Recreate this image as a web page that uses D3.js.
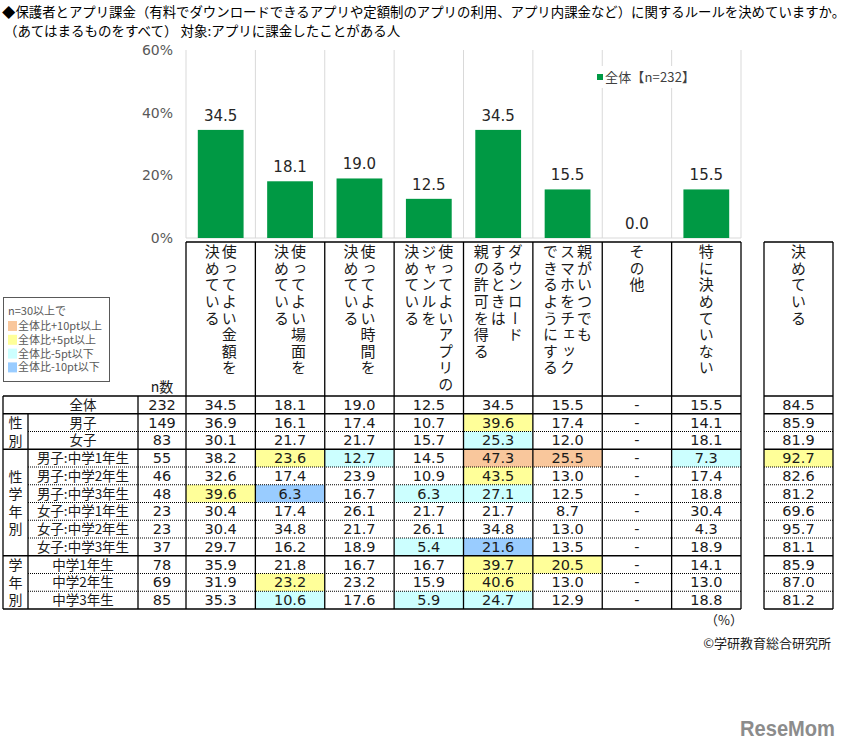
<!DOCTYPE html>
<html>
<head>
<meta charset="utf-8">
<script src="https://cdn.jsdelivr.net/npm/d3@7"></script>
<style>
  body { margin: 0; background: #fff; }
  svg { display: block; font-family: "Noto Sans CJK JP", sans-serif; }
  .num { font-family: "DejaVu Sans", sans-serif; }
</style>
</head>
<body>
<div id="chart"></div>
<script>
// ---- data ----
const categories = ["金額", "場面", "時間", "ジャンル", "許可", "チェック", "その他", "特になし"];
const headerLines = [
  ["使ってよい金額を", "決めている"],
  ["使ってよい場面を", "決めている"],
  ["使ってよい時間を", "決めている"],
  ["使ってよいアプリの", "ジャンルを", "決めている"],
  ["ダウンロード", "するときは", "親の許可を得る"],
  ["親がいつでも", "スマホをチェック", "できるようにする"],
  ["その他"],
  ["特に決めていない"]
];
const overall = [34.5, 18.1, 19.0, 12.5, 34.5, 15.5, 0.0, 15.5];
const yTicks = [0, 20, 40, 60];

const rowLabels = ["全体", "男子", "女子", "男子:中学1年生", "男子:中学2年生", "男子:中学3年生",
                   "女子:中学1年生", "女子:中学2年生", "女子:中学3年生", "中学1年生", "中学2年生", "中学3年生"];
const rowN = [232, 149, 83, 55, 46, 48, 23, 23, 37, 78, 69, 85];
const tableValues = [
  [34.5, 18.1, 19.0, 12.5, 34.5, 15.5, null, 15.5],
  [36.9, 16.1, 17.4, 10.7, 39.6, 17.4, null, 14.1],
  [30.1, 21.7, 21.7, 15.7, 25.3, 12.0, null, 18.1],
  [38.2, 23.6, 12.7, 14.5, 47.3, 25.5, null, 7.3],
  [32.6, 17.4, 23.9, 10.9, 43.5, 13.0, null, 17.4],
  [39.6, 6.3, 16.7, 6.3, 27.1, 12.5, null, 18.8],
  [30.4, 17.4, 26.1, 21.7, 21.7, 8.7, null, 30.4],
  [30.4, 34.8, 21.7, 26.1, 34.8, 13.0, null, 4.3],
  [29.7, 16.2, 18.9, 5.4, 21.6, 13.5, null, 18.9],
  [35.9, 21.8, 16.7, 16.7, 39.7, 20.5, null, 14.1],
  [31.9, 23.2, 23.2, 15.9, 40.6, 13.0, null, 13.0],
  [35.3, 10.6, 17.6, 5.9, 24.7, 12.9, null, 18.8]
];
// O:+10pt  Y:+5pt  C:-5pt  B:-10pt
const highlights = ["........", "....Y...", "....C...", ".YC.OO.C", "....Y...", "YB.CC...",
                    "........", "........", "...CB...", "....YY..", ".Y..Y...", ".C.CC..."];
const decidedValues = [84.5, 85.9, 81.9, 92.7, 82.6, 81.2, 69.6, 95.7, 81.1, 85.9, 87.0, 81.2];
const decidedHighlight = "...Y........";
const groups = [
  { label: "性別", from: 1, to: 2 },
  { label: "性学年別", from: 3, to: 8 },
  { label: "学年別", from: 9, to: 11 }
];
const legendItems = [
  { code: "O", text: "全体比+10pt以上" },
  { code: "Y", text: "全体比+5pt以上" },
  { code: "C", text: "全体比-5pt以下" },
  { code: "B", text: "全体比-10pt以下" }
];
const fills = { O: "#f9c79c", Y: "#ffff99", C: "#ccffff", B: "#99ccff" };

// ---- layout ----
const W = 849, H = 750;
const svg = d3.select("#chart").append("svg").attr("width", W).attr("height", H);

const x = d3.scaleBand().domain(categories).range([186, 741]).paddingInner(0.34).paddingOuter(0.17);
const y = d3.scaleLinear().domain([0, 60]).range([238, 50]);
const step = x.step();
const colLeft = c => x(c) - step * 0.17;
const lastLeft = 764, lastRight = 833;

// title
svg.append("text").attr("x", 2).attr("y", 17).attr("font-size", 13.4).attr("fill", "#000")
  .text("◆保護者とアプリ課金（有料でダウンロードできるアプリや定額制のアプリの利用、アプリ内課金など）に関するルールを決めていますか。");
svg.append("text").attr("x", 4).attr("y", 36).attr("font-size", 13.5).attr("fill", "#000")
  .text("（あてはまるものをすべて） 対象:アプリに課金したことがある人");

// chart gridlines (vertical, at column boundaries)
const bounds = categories.map(colLeft).concat([741]);
svg.append("g").selectAll("line").data(bounds).join("line")
  .attr("x1", d => d).attr("x2", d => d).attr("y1", y(60)).attr("y2", y(0))
  .attr("stroke", "#d9d9d9").attr("stroke-width", 1);
svg.append("line").attr("x1", 186).attr("x2", 741).attr("y1", y(0)).attr("y2", y(0))
  .attr("stroke", "#d9d9d9");

// y axis labels
svg.append("g").selectAll("text").data(yTicks).join("text")
  .attr("class", "num").attr("x", 173).attr("y", d => y(d) + 5)
  .attr("text-anchor", "end").attr("font-size", 14).attr("fill", "#595959")
  .text(d => d + "%");

// bars
svg.append("g").selectAll("rect").data(overall).join("rect")
  .attr("x", (d, i) => x(categories[i])).attr("width", x.bandwidth())
  .attr("y", d => y(d)).attr("height", d => y(0) - y(d))
  .attr("fill", "#009944");
svg.append("g").selectAll("text").data(overall).join("text")
  .attr("class", "num")
  .attr("x", (d, i) => x(categories[i]) + x.bandwidth() / 2)
  .attr("y", d => y(d) - 9)
  .attr("text-anchor", "middle").attr("font-size", 15).attr("fill", "#262626")
  .text(d => d.toFixed(1));

// chart legend
const lg = svg.append("g").attr("transform", "translate(594,66)");
lg.append("rect").attr("width", 106).attr("height", 22).attr("fill", "#fff");
lg.append("rect").attr("x", 3).attr("y", 8).attr("width", 6).attr("height", 6).attr("fill", "#009944");
lg.append("text").attr("x", 11).attr("y", 16).attr("font-size", 13).attr("fill", "#404040")
  .attr("textLength", 90).attr("lengthAdjust", "spacing").text("全体【n=232】");

// ---- table ----
const rowY = d3.scaleBand().domain(d3.range(rowLabels.length)).range([396, 609]);
const rh = rowY.bandwidth();
const T = svg.append("g");

// highlighted cells
tableValues.forEach((row, r) => {
  row.forEach((v, c) => {
    const code = highlights[r][c];
    if (fills[code]) {
      T.append("rect").attr("x", colLeft(categories[c])).attr("y", rowY(r))
        .attr("width", step).attr("height", rh).attr("fill", fills[code]);
    }
  });
  const dc = decidedHighlight[r];
  if (fills[dc]) {
    T.append("rect").attr("x", lastLeft).attr("y", rowY(r))
      .attr("width", lastRight - lastLeft).attr("height", rh).attr("fill", fills[dc]);
  }
});

// header vertical texts
const pitch = 17;
headerLines.forEach((lines, c) => {
  const cx = x(categories[c]) + x.bandwidth() / 2;
  lines.forEach((t, j) => {
    T.append("text").attr("x", cx + ((lines.length - 1) / 2 - j) * pitch).attr("y", 244)
      .attr("writing-mode", "vertical-rl").attr("font-size", 15)
      .attr("letter-spacing", 1.6).attr("fill", "#1a1a1a").text(t);
  });
});
T.append("text").attr("x", (lastLeft + lastRight) / 2).attr("y", 244)
  .attr("writing-mode", "vertical-rl").attr("font-size", 15)
  .attr("letter-spacing", 1.6).attr("fill", "#1a1a1a").text("決めている");
T.append("text").attr("x", 162).attr("y", 392).attr("text-anchor", "middle")
  .attr("font-size", 14).attr("fill", "#1a1a1a").text("n数");

// row labels, n, values
rowLabels.forEach((lab, r) => {
  const cy = rowY(r) + rh / 2 + 5;
  T.append("text").attr("x", 83).attr("y", cy).attr("text-anchor", "middle")
    .attr("font-size", 13.5).attr("fill", "#1a1a1a").text(lab);
  T.append("text").attr("class", "num").attr("x", 162).attr("y", cy).attr("text-anchor", "middle")
    .attr("font-size", 14.5).attr("fill", "#1a1a1a").text(rowN[r]);
  tableValues[r].forEach((v, c) => {
    T.append("text").attr("class", "num")
      .attr("x", colLeft(categories[c]) + step / 2).attr("y", cy).attr("text-anchor", "middle")
      .attr("font-size", 14.5).attr("fill", "#1a1a1a").text(v === null ? "-" : v.toFixed(1));
  });
  T.append("text").attr("class", "num")
    .attr("x", (lastLeft + lastRight) / 2).attr("y", cy).attr("text-anchor", "middle")
    .attr("font-size", 14.5).attr("fill", "#1a1a1a").text(decidedValues[r].toFixed(1));
});

// group labels (vertical)
groups.forEach(g => {
  const cy = (rowY(g.from) + rowY(g.to) + rh) / 2;
  T.append("text").attr("x", 15.5).attr("y", cy + 1.7)
    .attr("writing-mode", "vertical-rl").attr("text-anchor", "middle")
    .attr("font-size", 14).attr("letter-spacing", 3.4).attr("fill", "#1a1a1a").text(g.label);
});

// lines
const line = (x1, y1, x2, y2, dotted) => T.append("line")
  .attr("x1", x1).attr("y1", y1).attr("x2", x2).attr("y2", y2)
  .attr("stroke", "#000").attr("stroke-width", dotted ? 1 : 1.3)
  .attr("stroke-dasharray", dotted ? "1,1" : null);

const tableTop = 242, tableBottom = 609;
line(186, tableTop, 741, tableTop);
line(lastLeft, tableTop, lastRight, tableTop);
bounds.forEach(b => line(b, tableTop, b, tableBottom));
line(lastLeft, tableTop, lastLeft, tableBottom);
line(lastRight, tableTop, lastRight, tableBottom);
line(3, rowY(0), 3, tableBottom);
line(138, rowY(0), 138, tableBottom);
line(28, rowY(1), 28, tableBottom);

const groupStarts = groups.map(g => g.from);
d3.range(rowLabels.length + 1).forEach(r => {
  const yy = r < rowLabels.length ? rowY(r) : tableBottom;
  const solid = r === 0 || r === rowLabels.length || groupStarts.includes(r);
  const x0 = solid ? 3 : 28;
  line(x0, yy, 741, yy, !solid);
  line(lastLeft, yy, lastRight, yy, !solid);
});

// left legend box
const lb = svg.append("g").attr("transform", "translate(3,297)");
lb.append("rect").attr("x", 0.5).attr("y", 0.5).attr("width", 106).attr("height", 84)
  .attr("fill", "#fff").attr("stroke", "#595959");
const legendPitch = 13.8;
legendItems.forEach((it, i) => {
  lb.append("rect").attr("x", 5).attr("y", 24 + i * legendPitch).attr("width", 9).attr("height", 10)
    .attr("fill", fills[it.code]);
});
const lt = lb.append("text").attr("font-size", 11).attr("fill", "#595959");
lt.append("tspan").attr("x", 5).attr("y", 18).text("n=30以上で");
legendItems.forEach((it, i) => {
  lt.append("tspan").attr("x", 15).attr("y", 33 + i * legendPitch).text(it.text);
});

// footer
svg.append("text").attr("x", 724).attr("y", 625).attr("text-anchor", "middle")
  .attr("font-size", 13).attr("fill", "#1a1a1a").text("（%）");
svg.append("text").attr("x", 831).attr("y", 648).attr("text-anchor", "end")
  .attr("font-size", 13).attr("fill", "#1a1a1a").text("©学研教育総合研究所");
svg.append("text").attr("x", 740).attr("y", 736).attr("font-family", "Liberation Sans, sans-serif")
  .attr("font-weight", "bold").attr("font-size", 22).attr("fill", "#8c8c8c")
  .attr("textLength", 95).attr("lengthAdjust", "spacingAndGlyphs").text("ReseMom");
</script>
</body>
</html>
